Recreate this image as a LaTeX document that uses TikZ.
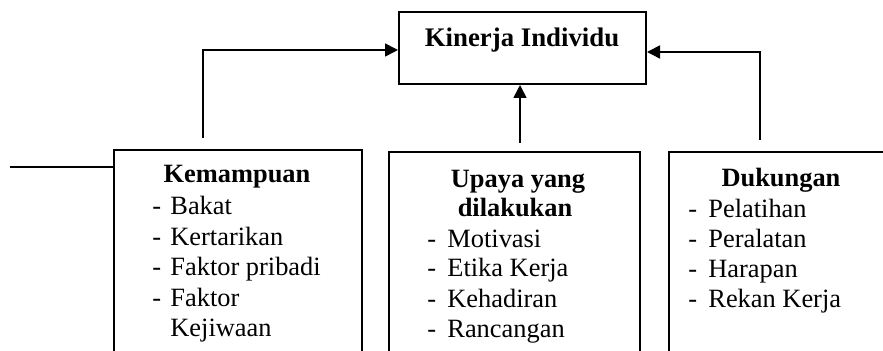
\documentclass[tikz,border=0pt]{standalone}
\usepackage{fontspec}
\setmainfont{Liberation Serif}
\usetikzlibrary{arrows.meta}
\begin{document}
\begin{tikzpicture}[x=0.5pt,y=-0.5pt,
  box/.style={draw,line width=1pt,anchor=north west,inner sep=0pt},
  conn/.style={line width=0.8pt,-{Triangle[length=6.5pt,width=6.5pt]}},
  head/.style={font=\fontsize{13.2}{15.4}\selectfont\bfseries,anchor=base,inner sep=0pt},
  item/.style={font=\fontsize{13.2}{15.4}\selectfont,anchor=base west,inner sep=0pt}]
\useasboundingbox (0,0) rectangle (883,351);
\clip (0,0) rectangle (883,351);
% top box
\node[box,minimum width=123.5pt,minimum height=36pt] (top) at (398,11) {};
\node[font=\fontsize{13.4}{15}\selectfont\bfseries,anchor=base,inner sep=0pt] (topt) at (522,47) {Kinerja Individu};
% lower boxes
\node[box,minimum width=124pt,minimum height=112pt] (kem) at (113,149) {};
\node[box,minimum width=125.5pt,minimum height=112pt] (upa) at (388,151) {};
\node[box,minimum width=113pt,minimum height=112pt] (duk) at (668,151) {};
% texts left
\node[head] (kh) at (237,183) {Kemampuan};
\node[item] (k1d) at (152,215) {-}; \node[item] (k1) at (170,215) {Bakat};
\node[item] (k2d) at (152,246) {-}; \node[item] (k2) at (170,246) {Kertarikan};
\node[item] (k3d) at (152,276) {-}; \node[item] (k3) at (170,276) {Faktor pribadi};
\node[item] (k4d) at (152,307) {-}; \node[item] (k4) at (170,307) {Faktor};
\node[item] (k5) at (170,337) {Kejiwaan};
% texts middle
\node[head] (uh1) at (518,188) {Upaya yang};
\node[head] (uh2) at (515,217) {dilakukan};
\node[item] (u1d) at (427,248) {-}; \node[item] (u1) at (447,248) {Motivasi};
\node[item] (u2d) at (427,277) {-}; \node[item] (u2) at (447,277) {Etika Kerja};
\node[item] (u3d) at (427,308) {-}; \node[item] (u3) at (447,308) {Kehadiran};
\node[item] (u4d) at (427,338) {-}; \node[item] (u4) at (447,338) {Rancangan};
% texts right
\node[head] (dh) at (781,187) {Dukungan};
\node[item] (d1d) at (688,218) {-}; \node[item] (d1) at (708,218) {Pelatihan};
\node[item] (d2d) at (688,248) {-}; \node[item] (d2) at (708,248) {Peralatan};
\node[item] (d3d) at (688,278) {-}; \node[item] (d3) at (708,278) {Harapan};
\node[item] (d4d) at (688,308) {-}; \node[item] (d4) at (708,308) {Rekan Kerja};
% connectors
\coordinate (lstart) at (203,138);
\coordinate (mstart) at (520,143);
\coordinate (rstart) at (760,140);
\coordinate (hl) at (10,167);
\draw[conn] (lstart) |- ([yshift=-1pt]top.west);
\draw[conn] (rstart) |- ([yshift=-2pt]top.east);
\draw[conn] (mstart) -- (mstart |- top.south);
\draw[line width=1.4pt] (hl) -- (hl -| kem.west);
\end{tikzpicture}
\end{document}
